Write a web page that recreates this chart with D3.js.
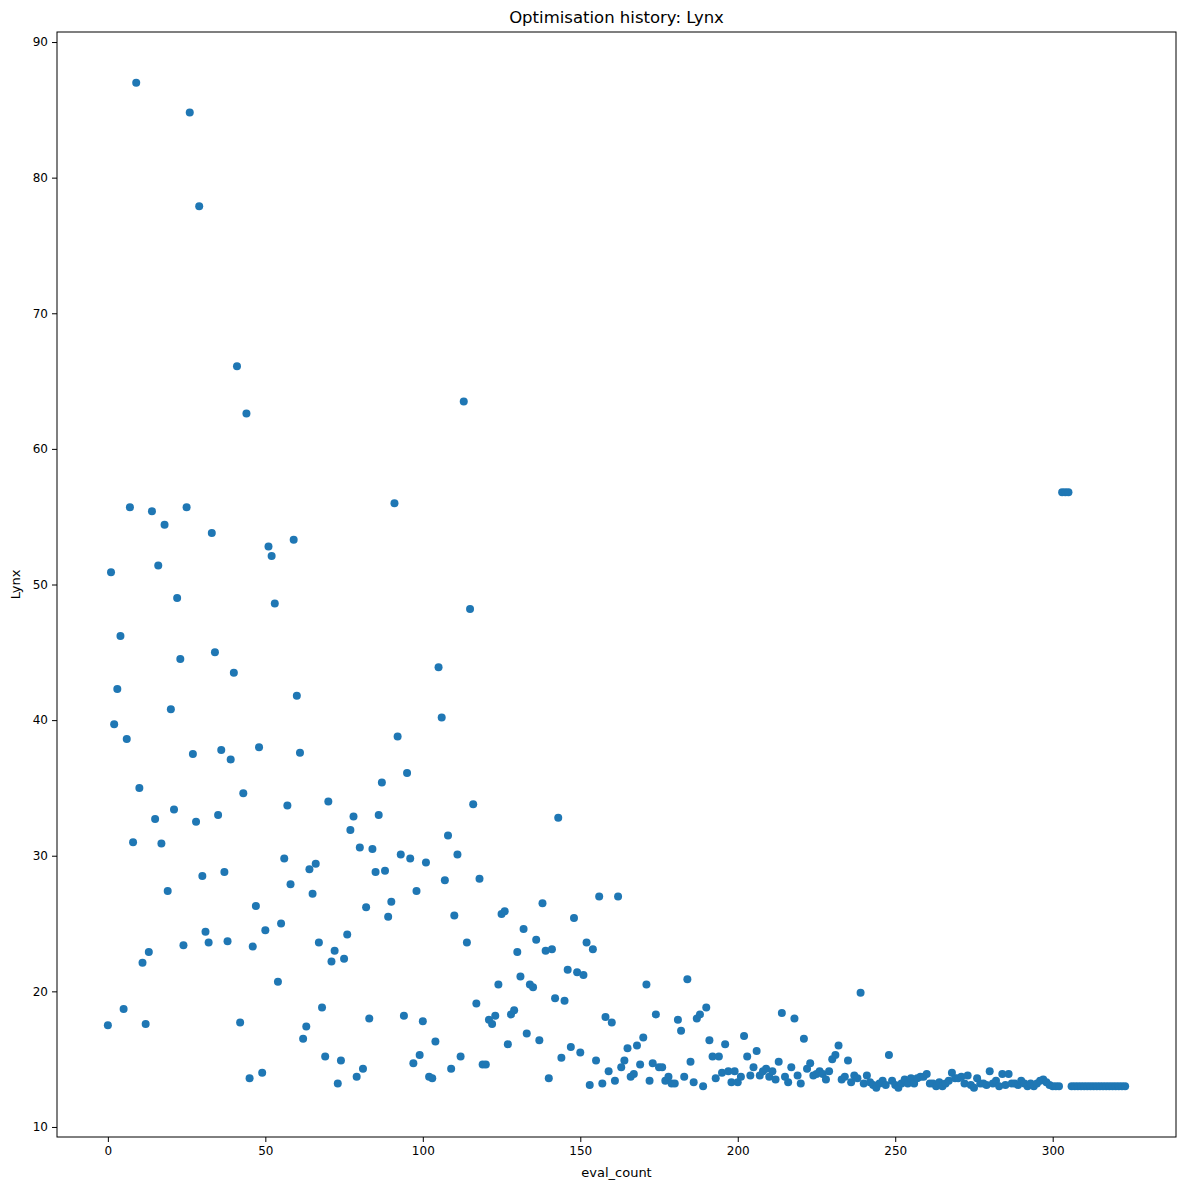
<!DOCTYPE html>
<html><head><meta charset="utf-8">
<script src="https://cdn.jsdelivr.net/npm/d3@7"></script>
<style>body{margin:0;background:#fff}text{font-family:"DejaVu Sans",sans-serif}</style>
</head><body><svg id="c" width="1189" height="1190"></svg>
<script>
const lynxA = [17.5,50.9,39.7,42.3,46.2,18.7,38.6,55.7,31,87,35,22.1,17.6,22.9,55.4,32.7,51.4,30.9,54.4,27.4,40.8,33.4,49,44.5,23.4,55.7,84.8,37.5,32.5,77.9,28.5,24.4,23.6,53.8,45,33,37.8,28.8,23.7,37.1,43.5,66.1,17.7,34.6,62.6,13.6,23.3,26.3,38,14,24.5,52.8,52.1,48.6,20.7,25,29.8,33.7,27.9,53.3,41.8,37.6,16.5,17.4,29,27.2,29.4,23.6,18.8,15.2,34,22.2,23,13.2,14.9,22.4,24.2,31.9,32.9,13.7,30.6,14.3,26.2,18,30.5,28.8,33,35.4,28.9,25.5,26.6,56,38.8,30.1,18.2,36.1,29.8,14.7,27.4,15.3];
const lynxB = [17.8,29.5,13.7,13.6,16.3,43.9,40.2,28.2,31.5,14.3,25.6,30.1,15.2,63.5,23.6,48.2,33.8,19.1,28.3,14.6,14.6,17.9,17.6,18.2,20.5,25.7,25.9,16.1,18.3,18.6,22.9,21.1,24.6,16.9,20.5,20.3,23.8,16.4,26.5,23,13.6,23.1,19.5,32.8,15.1,19.3,21.6,15.9,25.4,21.4,15.5,21.2,23.6,13.1,23.1,14.9,27,13.2,18.1,14.1,17.7,13.4,27,14.4,14.9,15.8,13.7,13.9,16,14.6,16.6,20.5,13.4,14.7,18.3,14.4,14.4,13.4,13.7,13.2,13.2,17.9,17.1,13.7,20.9,14.8,13.3,18,18.3,13,18.8,16.4,15.2,13.6,15.2,14,16.1,14.1,13.3,14.1];
const lynxC = [13.3,13.7,16.7,15.2,13.8,14.4,15.6,13.8,14.1,14.3,13.7,14.1,13.5,14.8,18.4,13.7,13.3,14.4,18,13.8,13.2,16.5,14.3,14.7,13.8,13.9,14.1,13.9,13.5,14.1,15,15.3,16,13.5,13.7,14.9,13.3,13.8,13.6,19.9,13.2,13.8,13.3,13.1,12.9,13.2,13.4,13.1,15.3,13.4,13.1,12.9,13.2,13.5,13.2,13.6,13.2,13.6,13.7,13.7,13.9,13.2,13.2,13,13.3,13,13.2,13.4,14,13.6,13.6,13.7,13.2,13.8,13.1,12.9,13.6,13.2,13.2,13.1,14.1,13.2,13.4,13,13.9,13.1,13.9,13.2,13.2,13.1,13.4,13.2,13,13.2,13,13.2,13.4,13.5,13.3,13.1];
const lynxD = [13,13,13,56.8,56.8,56.8,13,13,13,13,13,13,13,13,13,13,13,13,13,13,13,13,13,13];
const lynx = lynxA.concat(lynxB, lynxC, lynxD);
const evalCount = lynx.map((d,i)=>i);
const xTicks = [0,50,100,150,200,250,300];
const yTicks = [10,20,30,40,50,60,70,80,90];

const svg = d3.select("#c");
const L=57,R=1176,T=32,B=1137;
const x = d3.scaleLinear().domain([-16.15,339.15]).range([L,R]);
const y = d3.scaleLinear().domain([9.26,90.74]).range([B,T]);
svg.append("g").selectAll("circle").data(lynx).join("circle")
  .attr("cx",(d,i)=>x(evalCount[i])).attr("cy",d=>y(d)).attr("r",4).attr("fill","#1f77b4");
const xa = svg.append("g").attr("transform",`translate(0,${B})`).call(d3.axisBottom(x).tickValues(xTicks).tickSize(5).tickPadding(4));
const ya = svg.append("g").attr("transform",`translate(${L},0)`).call(d3.axisLeft(y).tickValues(yTicks).tickSize(5).tickPadding(4));
[xa,ya].forEach(a=>{a.select(".domain").remove();a.selectAll("text").attr("font-size",12).attr("font-family","DejaVu Sans").attr("fill","#000");a.selectAll("line").attr("stroke","#000");});
svg.append("rect").attr("x",L).attr("y",T).attr("width",R-L).attr("height",B-T).attr("fill","none").attr("stroke","#000").attr("stroke-width",1);
svg.append("text").attr("x",(L+R)/2).attr("y",T-9).attr("text-anchor","middle").attr("font-size",16.5).text("Optimisation history: Lynx");
svg.append("text").attr("x",(L+R)/2).attr("y",1177).attr("text-anchor","middle").attr("font-size",13).text("eval_count");
svg.append("text").attr("transform",`translate(20,${(T+B)/2}) rotate(-90)`).attr("text-anchor","middle").attr("font-size",13).text("Lynx");
</script></body></html>
